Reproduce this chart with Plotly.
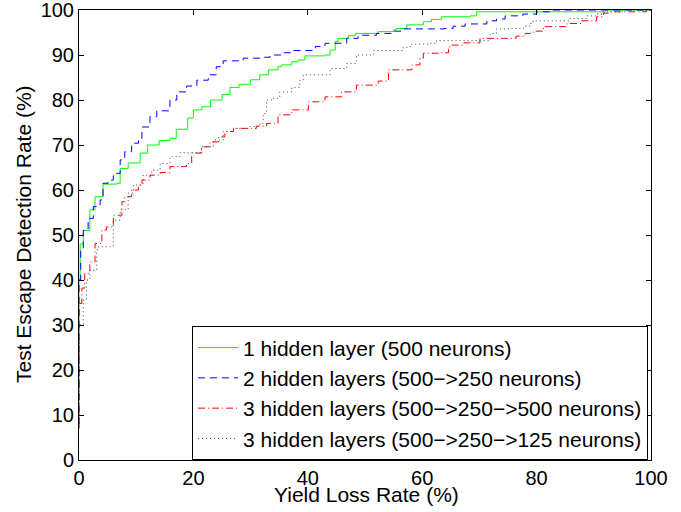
import plotly.graph_objects as go

# Green: 1 hidden layer (500 neurons)
g_x = [0, 0, 0.2, 0.75, 1.9, 2.8, 4.2, 6.6, 7.2, 8.6, 10.7, 12, 14, 15.9, 17, 19, 20, 21.5, 23, 25,
       26.4, 28, 30, 31.6, 33.1, 34.8, 35.4, 37.2, 38.3, 39.5, 43, 43.9, 44.8, 45.3, 47.1, 48.3, 52.3,
       55, 55.5, 57.3, 60.2, 61.6, 63.4, 68.4, 69.5, 82, 92, 100]
g_y = [7, 40, 48, 51, 55.6, 58.5, 61.3, 61.5, 64.8, 66, 68.2, 70, 71, 71.5, 73.5, 76, 77.8, 78.5, 80, 81.2,
       82.8, 83.5, 84.5, 85.6, 86.7, 87.4, 87.8, 88.5, 88.9, 89.8, 90, 91.1, 93, 93.7, 94.3, 94.8, 95.2,
       95.6, 95.9, 96.7, 97.4, 97.9, 98.5, 98.7, 99.6, 99.6, 100, 100]

# Blue: 2 hidden layers
b_x = [0, 0, 0.3, 0.75, 1.6, 2.5, 3.7, 4.2, 5.1, 6, 7.2, 8, 9.2, 10.4, 11, 12.4, 13.6, 15.9, 17.1, 18.8,
       20.6, 22.6, 24, 25.2, 28.7, 31.6, 33.4, 35.7, 37.5, 41.3, 43, 46.8, 48.8, 52, 55, 56.7, 63.8, 65.4,
       67.5, 71.3, 73, 74.5, 77.6, 80, 82.3, 100]
b_y = [8, 40, 47, 51, 53.7, 56.3, 57.8, 61.5, 62.2, 63.7, 66.7, 68.5, 70.4, 71.5, 74, 76.3, 77.6, 80, 81.8, 83.1,
       84.4, 85.6, 87.4, 88.7, 89.3, 89.5, 90, 90.5, 91, 91.9, 92.6, 93.7, 94.4, 94.8, 95.3, 95.8, 95.9, 96.4,
       96.9, 97.6, 98, 98.7, 99.1, 99.6, 100, 100]

# Red: 3 hidden layers (500->250->500)
r_x = [0, 0, 0.5, 1, 1.9, 2.8, 4, 4.8, 6, 7.5, 8, 9.2, 10.4, 11, 12.4, 14.2, 15.9, 18.8, 19.7, 21.4,
       22.9, 24.4, 25.5, 27, 31, 32.8, 34.8, 37.2, 40.1, 43, 45.9, 48.5, 52.3, 54.1, 57.3, 58.2, 59.6, 60.2,
       63.1, 64.6, 65.2, 67.2, 70.1, 74.2, 76.4, 78, 79.4, 81.2, 85.3, 87.9, 90.5, 91.7, 92.8, 99.2, 100]
r_y = [7, 34.8, 38.2, 41.5, 44, 48.1, 51.1, 51.8, 54.4, 57.4, 58.5, 60, 61.1, 62.2, 63.3, 63.9, 65.2, 65.9, 68.2, 69.6,
       70.7, 71.8, 73, 73.7, 74.2, 74.8, 76.7, 77.8, 79.6, 80.7, 81.8, 83.3, 84.2, 86.7, 86.7, 87.8, 89.3, 90.4,
       90.5, 91.8, 92.2, 92.7, 93.7, 93.7, 94.2, 94.8, 95.3, 96.3, 97, 97.6, 98.5, 99.3, 99.6, 100, 100]

# Black dotted: 3 hidden layers (500->250->125)
k_x = [0, 0, 0.75, 1.3, 1.9, 3.1, 3.4, 6, 7.2, 8.6, 9.5, 11.2, 12.7, 14.2, 15.9, 17.7, 20.6, 21.4, 23.5, 25.2,
       27, 29.9, 31.6, 32.2, 32.8, 34, 35.1, 37.2, 38.6, 39.2, 42.4, 43.9, 46.8, 48.5, 51.5, 55.5, 56.7, 57.9,
       61.4, 62.5, 68.9, 71.9, 73, 75.3, 77.7, 78.8, 79.4, 84.7, 85.8, 88.7, 90.5, 91.7, 95, 100]
k_y = [8, 30, 35.5, 40, 42.2, 46.7, 47.4, 53.3, 55.6, 59.3, 61.1, 63.3, 64.4, 65.9, 67.4, 68.3, 68.3, 69.6, 71.1, 73,
       73.7, 74.1, 74.8, 77, 80, 80.4, 81.8, 82.8, 84.4, 85.6, 85.6, 87, 88.1, 90, 91, 91, 91.7, 92.4,
       92.6, 93.2, 93.2, 94.8, 95.8, 95.9, 96.4, 97, 97.6, 97.6, 98.1, 98.7, 99.1, 99.6, 100, 100]

names = ["1 hidden layer (500 neurons)",
         "2 hidden layers (500\u2212>250 neurons)",
         "3 hidden layers (500\u2212>250\u2212>500 neurons)",
         "3 hidden layers (500\u2212>250\u2212>125 neurons)"]
x_title = "Yield Loss Rate (%)"
y_title = "Test Escape Detection Rate (%)"
tick_vals_x = [0, 20, 40, 60, 80, 100]
tick_vals_y = [0, 10, 20, 30, 40, 50, 60, 70, 80, 90, 100]

series = [(g_x, g_y, "#00ff00", "solid"),
          (b_x, b_y, "#0000ff", "7px,5px"),
          (r_x, r_y, "#ff0000", "7px,3px,1px,3px"),
          (k_x, k_y, "#444444", "1px,3px")]

fig = go.Figure()
for (xs, ys, col, dash), nm in zip(series, names):
    assert len(xs) == len(ys)
    fig.add_trace(go.Scatter(x=xs, y=ys, mode="lines", name=nm, line_shape="hv",
                             line=dict(color=col, width=1, dash=dash)))

font = "Liberation Sans, Arial, Helvetica, sans-serif"
axis_common = dict(showgrid=False, zeroline=False, showline=True, linecolor="black", linewidth=1,
                   mirror="ticks", ticks="inside", ticklen=5, tickcolor="black", automargin=False,
                   ticklabeloverflow="allow",
                   tickfont=dict(family=font, size=20, color="black"))
fig.update_xaxes(range=[0, 100], tickvals=tick_vals_x, **axis_common)
fig.update_yaxes(range=[0, 100], tickvals=tick_vals_y, **axis_common)

fig.add_annotation(text=x_title, xref="paper", yref="paper", x=0.503, y=-0.077,
                   xanchor="center", yanchor="middle", showarrow=False,
                   font=dict(family=font, size=21, color="black"))
fig.add_annotation(text=y_title, xref="paper", yref="paper", x=-0.098, y=0.502,
                   xanchor="center", yanchor="middle", showarrow=False, textangle=-90,
                   font=dict(family=font, size=21, color="black"))

fig.update_layout(width=681, height=512, plot_bgcolor="white", paper_bgcolor="white",
                  margin=dict(l=79, r=30, t=10, b=52),
                  font=dict(family=font, color="black"),
                  showlegend=True,
                  legend=dict(x=0.1976, y=0.148, xanchor="left", yanchor="middle",
                              bgcolor="white", bordercolor="black", borderwidth=1,
                              font=dict(family=font, size=21, color="black"),
                              tracegroupgap=0, itemwidth=40))
fig.write_html("out.html", post_script="document.body.style.margin='0';",
               config={"displayModeBar": False})
